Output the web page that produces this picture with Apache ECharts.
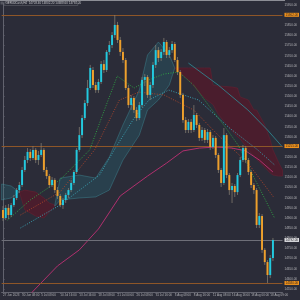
<!DOCTYPE html>
<html><head><meta charset="utf-8">
<script src="https://cdn.jsdelivr.net/npm/echarts@6/dist/echarts.min.js"></script>
<style>html,body{margin:0;padding:0;background:#2b2c38;}#c{width:300px;height:300px;}</style>
</head><body><div id="c"></div>
<script>
// ---- OHLC (H4 bars) ----
const opens = [14940,14900,14950,14915,14964,14999,15038,15063,15137,15186,
15226,15196,15236,15186,15211,15236,15137,15107,15063,15088,
15038,15009,14964,14989,15014,15038,15073,15127,15236,15309,
15393,15467,15541,15630,15556,15531,15571,15659,15630,15719,
15753,15802,15852,15778,15719,15679,15541,15457,15492,15433,
15393,15457,15581,15595,15507,15556,15655,15728,15689,15719,
15768,15704,15728,15758,15679,15620,15507,15383,15334,15374,
15334,15408,15359,15295,15334,15285,15324,15250,15295,15211,
15137,15073,15309,15112,15038,15058,15028,15112,15186,15245,
15186,15127,15063,15038,14866,14910,14743,14683,14619,14703];
const closes = [14900,14950,14915,14964,14999,15038,15063,15137,15186,15226,
15196,15236,15186,15211,15236,15137,15107,15063,15088,15038,
15009,14964,14989,15014,15038,15073,15127,15236,15309,15393,
15467,15541,15640,15556,15531,15571,15659,15630,15719,15753,
15802,15852,15778,15719,15679,15541,15457,15492,15433,15393,
15457,15581,15595,15507,15556,15655,15728,15689,15719,15768,
15704,15728,15758,15679,15620,15507,15383,15334,15374,15334,
15408,15359,15295,15334,15285,15324,15250,15295,15211,15137,
15073,15309,15112,15038,15058,15028,15112,15186,15245,15186,
15127,15063,15038,14866,14910,14743,14683,14619,14703,14792];
const lows = [14885,14890,14895,14905,14954,14989,15024,15053,15127,15171,
15181,15186,15171,15162,15201,15127,15093,15048,15053,15024,
14994,14954,14945,14974,14999,15028,15063,15117,15226,15295,
15383,15452,15531,15541,15517,15517,15561,15615,15620,15704,
15738,15788,15763,15699,15664,15531,15443,15433,15418,15378,
15383,15447,15551,15492,15482,15541,15640,15669,15674,15704,
15689,15689,15714,15669,15605,15492,15369,15319,15319,15319,
15324,15344,15280,15280,15270,15270,15236,15240,15196,15122,
15053,15063,15097,15014,14974,15004,15014,15102,15176,15171,
15112,15048,15019,14851,14851,14728,14669,14580,14604,14688];
const highs = [14959,14964,14969,14974,15014,15048,15078,15152,15206,15245,
15240,15255,15245,15231,15270,15245,15152,15117,15102,15097,
15053,15019,14999,15024,15048,15088,15137,15245,15349,15408,
15482,15581,15655,15645,15571,15586,15674,15679,15728,15773,
15817,15901,15867,15793,15738,15689,15556,15507,15502,15447,
15472,15595,15610,15605,15571,15669,15753,15743,15733,15788,
15778,15743,15773,15768,15694,15630,15517,15398,15388,15388,
15457,15418,15369,15349,15344,15339,15334,15309,15305,15221,
15147,15344,15319,15122,15073,15068,15122,15201,15260,15255,
15196,15137,15073,15048,14925,14920,14752,14693,14718,14802];

// ---- indicator lines: [bar, price] ----
const maLong  = [[9,14511],[20,14664],[28,14743],[35,14846],[43,15009],[53,15107],[60,15171],[66,15231],[72,15245],[78,15250],[84,15245],[89,15231],[94,15186],[99,15127]];
const maFast  = [[1.7,14890],[10,14989],[20.9,15088],[31.8,15236],[37.2,15433],[41.9,15600],[48.1,15541],[53.5,15581],[59,15610],[64.4,15620],[69.9,15556],[75.3,15457],[81.5,15349],[86.2,15260],[91.6,15112],[99.6,14900]];
const maMid   = [[6.4,14915],[20.9,15028],[33.6,15236],[42.7,15482],[49.9,15521],[59,15507],[69.9,15433],[78.9,15309],[89.8,15171],[99.2,15004]];
const maSlow  = [[6.4,14851],[20.9,14964],[35.4,15112],[40.8,15236],[48.1,15393],[53.5,15482],[60.8,15531],[71.7,15482],[82.6,15349],[93.4,15236],[99.6,15162]];
const spanLine = [[68,15664],[78.9,15556],[89.8,15433],[97,15334],[102.5,15250]];

// ---- cloud regions: bar, upper, lower ----
const tealBars1 = [-0.5,3,6];
const tealUp1   = [15068,15058,15028];
const tealLo1   = [14989,14999,15028];
const redBars1  = [6,8,12,15,17,19];
const redUp1    = [15028,15038,15028,14999,14974,14964];
const redLo1    = [15028,14940,14910,14900,14930,14959];
const tealBars2 = [19,21,28,34,39,44,50,53,57,61,63];
const tealUp2   = [14964,15097,15112,15097,15201,15359,15531,15704,15768,15704,15640];
const tealLo2   = [14959,14989,14999,15004,15038,15186,15309,15433,15482,15556,15640];
const redBars2  = [63,68,74,76,77,79,84,86,87,90,92,93,96,98,99,101,102.5];
const redUp2    = [15640,15640,15640,15640,15556,15551,15546,15541,15497,15482,15433,15433,15359,15285,15236,15176,15137];
const redLo2    = [15640,15580,15490,15470,15460,15410,15330,15300,15290,15236,15206,15190,15150,15122,15112,15107,15107];

// ---- levels ----
const levels = [15902, 15255, 14580];

// ---- axes ticks ----
const tickBars = [0,7,14,21,28,35,42,49,56,63,70,77,84,91,98];
const tickLabels = ['27 Jun 2023','30 Jun 08:00','5 Jul 08:00','10 Jul 16:00','13 Jul 16:00','18 Jul 08:00','21 Jul 00:00','26 Jul 08:00','31 Jul 16:00','3 Aug 08:00','8 Aug 16:00','11 Aug 08:00','16 Aug 16:00','18 Aug 00:00','18 Aug 09:00'];
const priceTicks = [15950,15900,15850,15800,15750,15700,15650,15600,15550,15500,15450,15400,15350,15300,15250,15200,15150,15100,15050,15000,14950,14900,14850,14800,14750,14700,14650,14600,14550];

const BG = '#2b2c38', UP = '#22cadf', DOWN = '#eea02c', WICK = 'rgba(140,132,118,0.7)';
const FONT = 'Liberation Sans';

const candleData = opens.map((o, i) => [i, o, closes[i], lows[i], highs[i]]);
const lastClose = closes[closes.length - 1];

function regionPoly(api, bars, up, lo) {
  const pts = [];
  for (let k = 0; k < bars.length; k++) pts.push(api.coord([bars[k], up[k]]));
  for (let k = bars.length - 1; k >= 0; k--) pts.push(api.coord([bars[k], lo[k]]));
  return pts;
}

const TEAL_FILL = 'rgba(40,125,138,0.26)', TEAL_EDGE = 'rgba(70,170,180,0.55)';
const RED_FILL = 'rgba(100,18,36,0.55)', RED_EDGE = 'rgba(120,30,48,0.7)';

const chart = echarts.init(document.getElementById('c'), null, {renderer: 'canvas'});
chart.setOption({
  animation: false,
  backgroundColor: BG,
  textStyle: {fontFamily: FONT},
  grid: {left: 1, right: 15, top: 3, bottom: 8},
  xAxis: {
    type: 'value', min: -0.5, max: 102.5,
    axisLine: {show: true, lineStyle: {color: '#62636e', width: 1}},
    axisTick: {show: true, length: 1.5, customValues: tickBars, lineStyle: {color: '#62636e'}},
    axisLabel: {customValues: tickBars, formatter: v => tickLabels[tickBars.indexOf(v)] || '', fontSize: 3, color: '#b4b4b8', align: 'left', margin: 1.5, fontFamily: FONT},
    splitLine: {show: false}
  },
  yAxis: {
    type: 'value', position: 'right', min: 14535.4, max: 15960.2,
    axisLine: {show: true, lineStyle: {color: '#62636e', width: 1}},
    axisTick: {show: true, length: 1.5, customValues: priceTicks, lineStyle: {color: '#62636e'}},
    axisLabel: {customValues: priceTicks, formatter: v => v.toFixed(2), fontSize: 3, color: '#b4b4b8', margin: 2, fontFamily: FONT},
    splitLine: {show: false}
  },
  graphic: [
    {type: 'rect', left: 0, top: 0, shape: {width: 285, height: 1}, style: {fill: '#8d8e96'}, silent: true},
    {type: 'rect', left: 0.5, top: 1.5, shape: {width: 3, height: 3}, style: {fill: '#555660'}, silent: true},
    {type: 'rect', left: 4.5, top: 1.2, shape: {width: 73, height: 4}, style: {fill: BG, stroke: '#5e5f68', lineWidth: 0.6}, silent: true},
    {type: 'text', left: 5.5, top: 1.6, style: {text: 'GER40Cash,H4  14703.40 14802.20 14688.60 14792.20', fontSize: 3, fill: '#c4c4c8', fontFamily: FONT}, silent: true}
  ],
  series: [
    {
      type: 'custom', name: 'cloud', clip: true, silent: true, z: 1,
      data: [[0, 15000]],
      renderItem: (params, api) => ({
        type: 'group',
        children: [
          {type: 'polygon', shape: {points: regionPoly(api, tealBars1, tealUp1, tealLo1)}, style: {fill: TEAL_FILL, stroke: TEAL_EDGE, lineWidth: 0.6}},
          {type: 'polygon', shape: {points: regionPoly(api, redBars1, redUp1, redLo1)}, style: {fill: RED_FILL, stroke: RED_EDGE, lineWidth: 0.6}},
          {type: 'polygon', shape: {points: regionPoly(api, tealBars2, tealUp2, tealLo2)}, style: {fill: TEAL_FILL, stroke: TEAL_EDGE, lineWidth: 0.6}},
          {type: 'polygon', shape: {points: regionPoly(api, redBars2, redUp2, redLo2)}, style: {fill: RED_FILL, stroke: RED_EDGE, lineWidth: 0.6}}
        ]
      })
    },
    {type: 'line', name: 'span', data: spanLine, showSymbol: false, silent: true, z: 2, lineStyle: {color: '#2f8e98', width: 0.8}},
    {type: 'line', name: 'slow', data: maSlow, showSymbol: false, silent: true, z: 2, lineStyle: {color: '#3a9fb0', width: 1, type: [1, 1.5]}},
    {type: 'line', name: 'mid', data: maMid, showSymbol: false, silent: true, z: 2, lineStyle: {color: '#a8442c', width: 1, type: [1, 1.5]}},
    {type: 'line', name: 'fast', data: maFast, showSymbol: false, silent: true, z: 2, lineStyle: {color: '#2fa044', width: 1, type: [1, 1.5]}},
    {
      type: 'line', name: 'long', data: maLong, showSymbol: false, silent: true, z: 2,
      lineStyle: {color: '#b0306e', width: 1},
      markLine: {
        silent: true, symbol: ['none', 'none'], animation: false,
        label: {show: true, position: 'end', distance: 2, fontSize: 3, color: '#1e1e24', padding: [0.8, 1, 0.2, 1], formatter: p => p.value.toFixed(2), fontFamily: FONT},
        data: [
          ...levels.map(v => ({yAxis: v, lineStyle: {color: '#8e5628', width: 1, type: 'solid'}, label: {backgroundColor: '#f0921c'}})),
          {yAxis: lastClose, lineStyle: {color: '#6e6f78', width: 1, type: 'solid'}, label: {backgroundColor: '#dcdce0'}}
        ]
      }
    },
    {
      type: 'custom', name: 'price', clip: true, silent: true, z: 5,
      data: candleData,
      encode: {x: 0, y: [1, 2, 3, 4]},
      renderItem: (params, api) => {
        const i = api.value(0), o = api.value(1), c = api.value(2), l = api.value(3), h = api.value(4);
        const pH = api.coord([i, h]), pL = api.coord([i, l]);
        const pO = api.coord([i, o]), pC = api.coord([i, c]);
        const w = api.size([0.72, 0])[0];
        const top = Math.min(pO[1], pC[1]), bot = Math.max(pO[1], pC[1]);
        return {type: 'group', children: [
          {type: 'line', shape: {x1: pH[0], y1: pH[1], x2: pL[0], y2: pL[1]}, style: {stroke: WICK, lineWidth: 1}},
          {type: 'rect', shape: {x: pO[0] - w / 2, y: top, width: w, height: Math.max(bot - top, 1)}, style: {fill: c >= o ? UP : DOWN}}
        ]};
      }
    }
  ]
});
</script>
</body></html>
